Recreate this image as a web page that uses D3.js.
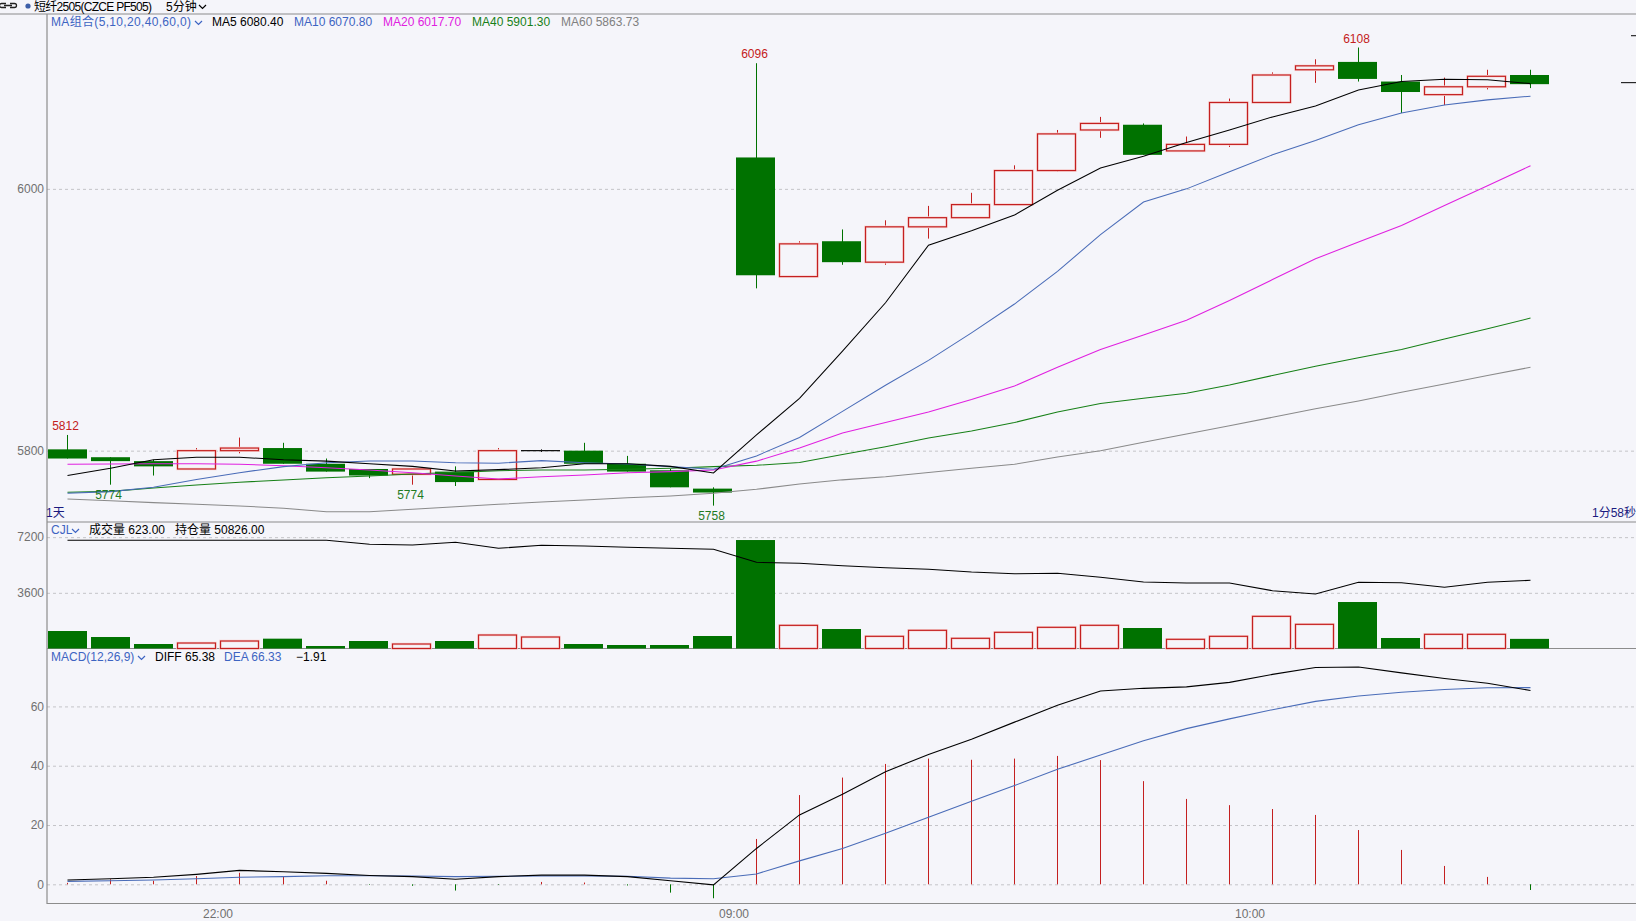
<!DOCTYPE html>
<html>
<head>
<meta charset="utf-8">
<script src="https://cdn.jsdelivr.net/npm/d3@7"></script>
<style>
  html, body { margin: 0; padding: 0; background: #f5f5fa; }
  svg { display: block; font-family: "Liberation Sans", "Noto Sans CJK SC", sans-serif; font-size: 12px; }
</style>
</head>
<body>
<svg id="chart"></svg>
<script>
// 5 minute bars, night session then day session
const times = ["21:40","21:45","21:50","21:55","22:00","22:05","22:10","22:15","22:20","22:25","22:30","22:35","22:40","22:45","22:50","22:55",
  "09:00","09:05","09:10","09:15","09:20","09:25","09:30","09:35","09:40","09:45","09:50","09:55","10:00","10:05","10:10","10:30","10:35","10:40","10:45"];

const open  = [5801,5795,5792,5786,5800,5802,5790,5786,5782,5784,5778,5800,5800,5790,5785,5771,6024,5933,5960,5944,5971,5978,5988,6014,6045,6049,6029,6034,6066,6091,6097,6082,6072,6078,6087];
const high  = [5812,5795,5793,5802,5810,5806,5794,5786,5786,5788,5802,5801,5806,5796,5786,5772,6096,5960,5969,5976,5987,5997,6018,6045,6055,6050,6040,6069,6089,6099,6108,6087,6085,6091,6091];
const low   = [5794,5774,5781,5786,5798,5790,5784,5779,5774,5773,5778,5799,5790,5784,5772,5758,5924,5933,5942,5942,5962,5978,5988,6013,6039,6026,6029,6032,6066,6081,6082,6058,6064,6076,6077];
const close = [5794,5792,5788,5800,5802,5790,5784,5781,5786,5776,5800,5800,5790,5784,5772,5768,5934,5958,5944,5971,5978,5988,6014,6042,6050,6026,6034,6066,6087,6094,6084,6074,6078,6086,6080];

const ma5  = [5781,5786.5,5793,5795,5795,5793,5792,5790,5788,5784.5,5785.5,5787,5790,5790,5788,5783,5812,5840,5876,5913,5957,5968,5980,5999,6016,6025,6035.5,6045,6055,6063.3,6075.5,6082,6083.7,6083.4,6080.4];
const ma10 = [5767.5,5768.7,5772,5778,5783.2,5787.8,5790.8,5792.1,5792.1,5790.8,5790.4,5792.4,5790.8,5789.8,5787.8,5785.8,5796,5810,5830,5850,5869,5890,5912,5937,5965,5990,6000,6013,6026,6037,6049,6058,6064,6068,6070.8];
const ma20 = [5789.6,5789.8,5790,5790,5789.6,5788.5,5787,5785.3,5783.2,5780.7,5778.4,5780,5781.4,5783.2,5784,5785.3,5792,5802,5813.5,5821.5,5829.5,5839,5849.4,5863.7,5877.3,5888.4,5899.6,5914.7,5930.7,5946.6,5959.4,5972,5987.3,6002.4,6017.7];
const ma40 = [5768.2,5768.9,5771.5,5773.8,5775.9,5777.6,5779.3,5780.6,5782.2,5783.4,5784.7,5785.3,5785.3,5785.8,5786.6,5787.8,5788.8,5791,5797,5803,5809.6,5815,5821.5,5829.5,5836,5840,5843.8,5850.2,5857.4,5864.5,5871,5877.3,5885.3,5893.2,5901.3];
const ma60 = [5763,5761.8,5760.3,5759,5757.8,5756,5753.4,5753.4,5755.2,5757.2,5759,5760.8,5762.3,5764,5765.4,5767.5,5770.5,5774.5,5777.7,5780,5783.3,5786.5,5789.6,5795.2,5800,5806.4,5812.8,5819,5825.5,5832,5838,5844.6,5851,5857.4,5863.73];

const volume = [1131,743,291,355,485,636,162,485,291,485,873,743,291,226,226,808,7014,1498,1260,788,1176,659,1047,1370,1500,1325,595,788,2081,1563,3006,679,918,918,623];
const openInt = [51826,51826,51826,51826,51826,51826,51826,51726,51709,51776,51626,51701,51684,51651,51626,51601,51276,51251,51191,51141,51101,51034,50991,51001,50901,50784,50759,50759,50566,50484,50776,50766,50651,50776,50826];

const diff = [1.45,1.9,2.36,3.37,4.7,4.25,3.7,3.0,2.6,1.7,2.6,3.1,3.1,2.6,1.2,-0.2,12.1,23.4,30.4,38.0,43.8,48.9,54.7,60.4,65.2,66.1,66.6,68.1,70.8,73.1,73.3,71.3,69.4,67.8,65.38];
const dea  = [1.0,1.2,1.45,1.9,2.4,2.6,2.9,2.9,2.8,2.6,2.7,2.8,2.8,2.7,2.1,1.9,3.5,7.9,12.1,17.2,22.6,28.0,33.3,38.8,43.6,48.4,52.5,55.8,58.9,61.7,63.5,64.8,65.7,66.3,66.33];
const macd = [0.5,1.7,1.2,2.8,3.9,2.6,1.2,-0.2,-0.5,-2.1,-0.2,0.8,0.6,-0.4,-2.8,-4.7,15.3,30.1,36.0,40.6,42.4,42.0,42.4,43.3,41.9,34.8,28.8,26.7,25.4,23.4,18.3,11.6,6.2,2.5,-1.91];

const priceTicks = [5800, 6000];
const volTicks = [3600, 7200];
const macdTicks = [0, 20, 40, 60];
const timeTicks = ["22:00", "09:00", "10:00"];
const highMarks = [0, 16, 30];
const lowMarks = [1, 8, 15];

const width = 1636, height = 921, axisX = 47;
const RED = "#c42020", HALO = "#f8d8d8", GREEN = "#007200", BLUE = "#3d64c2";

const svg = d3.select("#chart").attr("width", width).attr("height", height);
svg.append("rect").attr("width", width).attr("height", height).attr("fill", "#f5f5fa");

const x = d3.scaleBand().domain(times).range([46, 1551]).paddingInner(0.1).paddingOuter(0.05);
const cx = i => Math.round(x(times[i]) + x.bandwidth() / 2) + 0.5;
const bw = Math.round(x.bandwidth());
const xl = i => Math.round(x(times[i]));

const yP = d3.scaleLinear().domain([5745.5, 6133.6]).range([522, 14]);
const yV = d3.scaleLinear().domain([0, 8180]).range([648.5, 522]);
const yOI = d3.scaleLinear().domain(d3.extent(openInt)).range([594, 540.3]);
const yM = d3.scaleLinear().domain([-6.4, 79.7]).range([903.3, 648]);

// gridlines + left labels
function grid(scale, ticks) {
  const g = svg.append("g").attr("transform", "translate(" + axisX + ",0)")
    .call(d3.axisLeft(scale).tickValues(ticks).tickSize(-(width - axisX)).tickPadding(3).tickFormat(d3.format("d")));
  g.select(".domain").remove();
  g.selectAll("line").attr("stroke", "#c4c4c8").attr("stroke-dasharray", "3,3");
  g.selectAll("text").attr("fill", "#707070").style("font-size", "12px");
}
grid(yP, priceTicks);
grid(yV, volTicks);
grid(yM, macdTicks);

// frame
const frame = svg.append("g").attr("stroke", "#8c8c8c").attr("stroke-width", 1.2);
frame.append("line").attr("x1", 0).attr("x2", width).attr("y1", 14).attr("y2", 14);
frame.append("line").attr("x1", axisX).attr("x2", axisX).attr("y1", 14).attr("y2", 904);
[522, 648.5, 903.5].forEach(y => frame.append("line").attr("x1", axisX).attr("x2", width).attr("y1", y).attr("y2", y));

// candles
const candles = svg.append("g");
function hollow(g, i, y0, y1) {
  g.append("rect").attr("x", xl(i) + 0.5).attr("y", y0).attr("width", bw - 1).attr("height", y1 - y0)
    .attr("fill", "none").attr("stroke", HALO).attr("stroke-width", 2.6);
  g.append("rect").attr("x", xl(i) + 0.5).attr("y", y0).attr("width", bw - 1).attr("height", y1 - y0)
    .attr("fill", "none").attr("stroke", RED).attr("stroke-width", 1.2);
}
times.forEach((t, i) => {
  const o = open[i], c = close[i], xm = cx(i);
  if (c > o) {
    candles.append("line").attr("x1", xm).attr("x2", xm).attr("y1", yP(high[i])).attr("y2", yP(c)).attr("stroke", RED);
    candles.append("line").attr("x1", xm).attr("x2", xm).attr("y1", yP(o)).attr("y2", yP(low[i])).attr("stroke", RED);
    hollow(candles, i, yP(c), yP(o));
  } else if (c < o) {
    candles.append("line").attr("x1", xm).attr("x2", xm).attr("y1", yP(high[i])).attr("y2", yP(low[i])).attr("stroke", GREEN);
    candles.append("rect").attr("x", xl(i)).attr("y", yP(o)).attr("width", bw).attr("height", Math.max(1, yP(c) - yP(o))).attr("fill", GREEN);
  } else {
    candles.append("line").attr("x1", xm).attr("x2", xm).attr("y1", yP(high[i])).attr("y2", yP(low[i])).attr("stroke", "#111");
    candles.append("line").attr("x1", xl(i)).attr("x2", xl(i) + bw).attr("y1", yP(o)).attr("y2", yP(o)).attr("stroke", "#111").attr("stroke-width", 1.2);
  }
});

// moving averages
const maLine = arr => d3.line().x((d, i) => cx(i)).y(d => yP(d))(arr);
[[ma60, "#8a8a8a"], [ma40, "#178017"], [ma20, "#e020e0"], [ma10, "#4a6cb8"], [ma5, "#000"]].forEach(([arr, col]) => {
  svg.append("path").attr("d", maLine(arr)).attr("fill", "none").attr("stroke", col).attr("stroke-width", 1.05);
});

// high / low marks
highMarks.forEach(i => svg.append("text").attr("x", cx(i) - 2).attr("y", yP(high[i]) - 5)
  .attr("text-anchor", "middle").attr("fill", RED).text(high[i]));
lowMarks.forEach(i => svg.append("text").attr("x", cx(i) - 2).attr("y", yP(low[i]) + 14)
  .attr("text-anchor", "middle").attr("fill", "#1f7a1f").text(low[i]));

// right edge price marks
const last = close.length - 1;
svg.append("line").attr("x1", 1621).attr("x2", width).attr("y1", yP(close[last]) - 1.5).attr("y2", yP(close[last]) - 1.5).attr("stroke", "#000");
svg.append("line").attr("x1", 1631).attr("x2", width).attr("y1", yP(6117)).attr("y2", yP(6117)).attr("stroke", "#000");

// volume
const vols = svg.append("g");
times.forEach((t, i) => {
  if (close[i] >= open[i]) {
    hollow(vols, i, yV(volume[i]), yV(0));
  } else {
    vols.append("rect").attr("x", xl(i)).attr("y", yV(volume[i])).attr("width", bw).attr("height", yV(0) - yV(volume[i])).attr("fill", GREEN);
  }
});
svg.append("path").attr("d", d3.line().x((d, i) => cx(i)).y(d => yOI(d))(openInt))
  .attr("fill", "none").attr("stroke", "#000").attr("stroke-width", 1.1);

// macd
const mg = svg.append("g");
macd.forEach((v, i) => {
  mg.append("line").attr("x1", cx(i)).attr("x2", cx(i)).attr("y1", yM(0)).attr("y2", yM(v))
    .attr("stroke", v >= 0 ? RED : GREEN).attr("stroke-width", 1);
});
const mLine = arr => d3.line().x((d, i) => cx(i)).y(d => yM(d))(arr);
svg.append("path").attr("d", mLine(dea)).attr("fill", "none").attr("stroke", "#4a6cb8").attr("stroke-width", 1.1);
svg.append("path").attr("d", mLine(diff)).attr("fill", "none").attr("stroke", "#000").attr("stroke-width", 1.1);

// time axis
timeTicks.forEach(t => {
  svg.append("text").attr("x", x(t) - x.step() * x.paddingInner() / 2).attr("y", 918)
    .attr("text-anchor", "middle").attr("fill", "#707070").text(t);
});

// legends
function chevron(px, py, col) {
  svg.append("path").attr("d", "M" + px + "," + py + "l3.5,3.5l3.5,-3.5").attr("fill", "none").attr("stroke", col).attr("stroke-width", 1.2);
}
function label(px, py, txt, col) {
  return svg.append("text").attr("x", px).attr("y", py).attr("fill", col).text(txt);
}
const f2 = d3.format(".2f");
label(51, 26, "MA组合(5,10,20,40,60,0)", BLUE).attr("textLength", 140).attr("lengthAdjust", "spacing");
chevron(195, 21, BLUE);
label(212, 26, "MA5 " + f2(ma5[last]), "#000");
label(294, 26, "MA10 " + f2(ma10[last]), BLUE);
label(383, 26, "MA20 " + f2(ma20[last]), "#e020e0");
label(472, 26, "MA40 " + f2(ma40[last]), "#178017");
label(561, 26, "MA60 " + f2(ma60[last]), "#808080");

label(51, 534, "CJL", BLUE);
chevron(72, 529, BLUE);
label(89, 534, "成交量 " + f2(volume[last]), "#000");
label(175, 534, "持仓量 " + f2(openInt[last]), "#000");

label(51, 661, "MACD(12,26,9)", BLUE);
chevron(138, 656, BLUE);
label(155, 661, "DIFF " + f2(diff[last]), "#000");
label(224, 661, "DEA " + f2(dea[last]), BLUE);
label(296, 661, f2(macd[last]), "#000");

label(46, 517, "1天", "#1a1a80");
label(width, 517, "1分58秒", "#1a1a80").attr("text-anchor", "end");

// title bar
svg.append("path").attr("d", "M6,3.5h-4.5a1.5,1.5 0 0 0 0,4h4.5M10,3.5h4.5a1.5,1.5 0 0 1 0,4h-4.5M4,5.5h8")
  .attr("fill", "none").attr("stroke", "#222").attr("stroke-width", 1.3);
svg.append("circle").attr("cx", 28).attr("cy", 6).attr("r", 2.6).attr("fill", "#3d5fa8");
label(34, 11, "短纤2505(CZCE PF505)", "#000").attr("textLength", 118).attr("lengthAdjust", "spacing");
label(166, 11, "5分钟", "#000");
chevron(199, 5, "#000");
</script>
</body>
</html>
